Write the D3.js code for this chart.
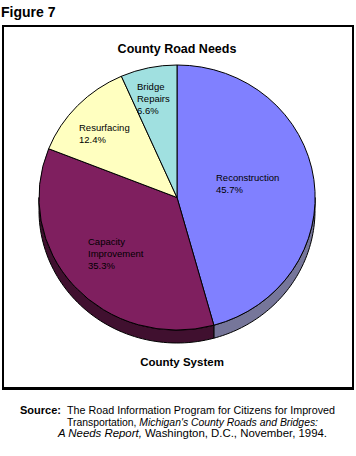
<!DOCTYPE html>
<html><head><meta charset="utf-8">
<script src="https://cdn.jsdelivr.net/npm/d3@7"></script>
<style>body{margin:0;background:#fff}svg{display:block}text{font-family:"Liberation Sans",Arial,sans-serif}</style>
</head><body>
<svg id="c" width="356" height="456"></svg>
<script>
const categories = ["Reconstruction", "Capacity Improvement", "Resurfacing", "Bridge Repairs"];
const labelLines = [["Reconstruction"], ["Capacity", "Improvement"], ["Resurfacing"], ["Bridge", "Repairs"]];
const values = [45.7, 35.3, 12.4, 6.6];
const colors = ["#8080ff", "#7f1f5f", "#ffffc0", "#a0e0e0"];
const sideColors = ["#76769a", "#40102f", "#808060", "#507070"];
const labelPos = [[216, 181], [88, 245], [79, 131], [137, 90]];
const sourceLines = [
  [["The Road Information Program for Citizens for Improved", false]],
  [["Transportation, ", false], ["Michigan's County Roads and Bridges:", true]],
  [["A  Needs Report,", true], [" Washington, D.C., November, 1994.", false]]
];

const svg = d3.select("#c");
// frame
svg.append("rect").attr("x", 3).attr("y", 26).attr("width", 350).attr("height", 362)
  .attr("fill", "#fff").attr("stroke", "#000").attr("stroke-width", 2);
svg.append("line").attr("x1", 353).attr("x2", 353).attr("y1", 25).attr("y2", 390).attr("stroke", "#000").attr("stroke-width", 2);
svg.append("line").attr("x1", 2).attr("x2", 354).attr("y1", 389).attr("y2", 389).attr("stroke", "#000").attr("stroke-width", 2);

svg.append("text").attr("x", 1).attr("y", 17).attr("font-size", 14).attr("font-weight", "bold").text("Figure 7");
svg.append("text").attr("x", 177).attr("y", 53).attr("text-anchor", "middle").attr("font-size", 12.5).attr("font-weight", "bold").text("County Road Needs");
svg.append("text").attr("x", 182).attr("y", 366).attr("text-anchor", "middle").attr("font-size", 11.5).attr("font-weight", "bold").text("County System");

const cx = 177, cy = 197.5, rx = 138, ry = 132.5, depth = 13;
const pie = d3.pie().sort(null).value(d => d)(values);

const g = svg.append("g");
// sides
function ex(a) { return cx + rx * Math.sin(a); }
function ey(a, off) { return cy - ry * Math.cos(a) + off; }
pie.forEach((p, i) => {
  const a0 = Math.max(p.startAngle, Math.PI / 2), a1 = Math.min(p.endAngle, 3 * Math.PI / 2);
  if (a1 <= a0) return;
  const n = 60, pts = [];
  for (let k = 0; k <= n; k++) { const a = a0 + (a1 - a0) * k / n; pts.push([ex(a), ey(a, 0)]); }
  for (let k = n; k >= 0; k--) { const a = a0 + (a1 - a0) * k / n; pts.push([ex(a), ey(a, depth)]); }
  g.append("path").attr("d", d3.line()(pts) + "Z").attr("fill", sideColors[i]).attr("stroke", "#000").attr("stroke-width", 1);
});
// top face
const arcGen = d3.arc().innerRadius(0).outerRadius(1);
const face = g.append("g").attr("transform", `translate(${cx},${cy}) scale(${rx},${ry})`);
face.selectAll("path").data(pie).join("path").attr("d", arcGen)
  .attr("fill", (d, i) => colors[i]).attr("stroke", "#000").attr("stroke-width", 1)
  .attr("vector-effect", "non-scaling-stroke");

// labels
pie.forEach((p, i) => {
  const lines = labelLines[i].concat([values[i].toFixed(1) + "%"]);
  const t = svg.append("text").attr("font-size", 9.5).attr("fill", "#000");
  lines.forEach((l, k) => t.append("tspan").attr("x", labelPos[i][0]).attr("y", labelPos[i][1] + k * 12).text(l));
});

// source
svg.append("text").attr("x", 61).attr("y", 414).attr("text-anchor", "end").attr("font-size", 11).attr("font-weight", "bold")
  .text("Source:");
const sx = [67, 67, 58], sw = [268, 251, 269];
sourceLines.forEach((line, k) => {
  const t = svg.append("text").attr("x", sx[k]).attr("y", 414 + k * 11.5).attr("font-size", 11)
    .attr("textLength", sw[k]).attr("lengthAdjust", "spacingAndGlyphs");
  line.forEach(([s, it]) => t.append("tspan").attr("font-style", it ? "italic" : "normal").text(s));
});
</script>
</body></html>
